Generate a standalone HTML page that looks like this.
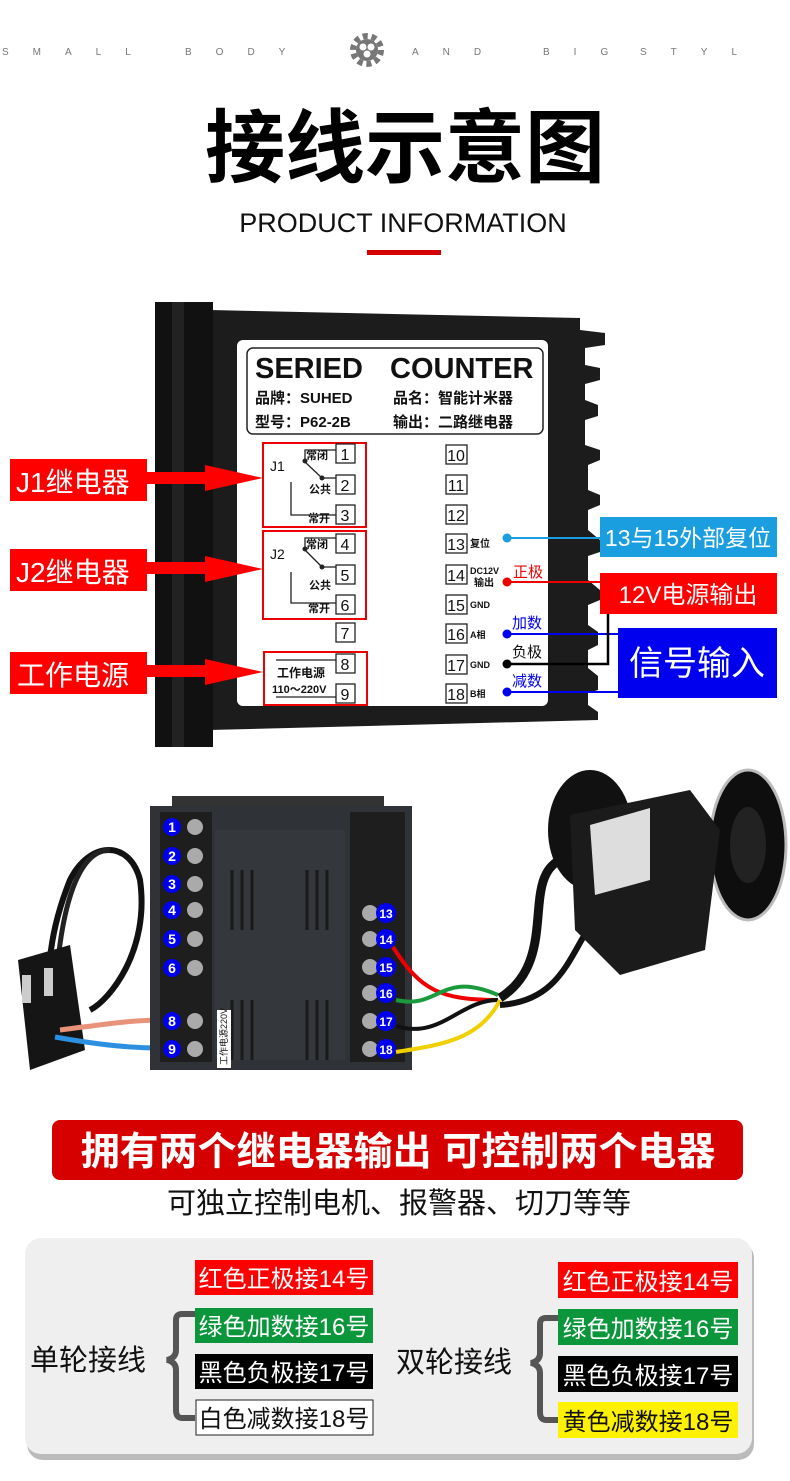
<!DOCTYPE html>
<html><head><meta charset="utf-8"><style>
html,body{margin:0;padding:0;background:#fff;}
svg{display:block;}
text{font-family:"Liberation Sans","Noto Sans CJK SC",sans-serif;}
</style></head><body>
<svg width="790" height="1481" viewBox="0 0 790 1481" xmlns="http://www.w3.org/2000/svg">
<!-- header -->
<g fill="#777" font-size="10">
<text x="2" y="55" letter-spacing="24">SMALL</text>
<text x="185" y="55" letter-spacing="24">BODY</text>
<text x="412" y="55" letter-spacing="24">AND</text>
<text x="543" y="55" letter-spacing="24">BIG</text>
<text x="640" y="55" letter-spacing="24">STYL</text>
</g>
<g transform="translate(367,50)">
<circle r="14" fill="none" stroke="#777" stroke-width="6" stroke-dasharray="5 3.8"/>
<circle r="11" fill="#777"/>
<circle cx="-4" cy="-3" r="3.5" fill="#fff"/><circle cx="4" cy="-3" r="3.5" fill="#fff"/><circle cx="0" cy="4" r="3.5" fill="#fff"/>
</g>
<text x="405" y="176" font-size="80" font-weight="bold" text-anchor="middle" fill="#000">接线示意图</text>
<text x="403" y="232" font-size="27" text-anchor="middle" fill="#111">PRODUCT INFORMATION</text>
<rect x="367" y="250" width="74" height="5" fill="#d40000"/>

<!-- device body -->
<polygon points="210,310 580,318 580,330 605,333 605,345 585,348 585,365 600,368 600,380 585,384 585,400 598,405 598,416 585,420 585,445 600,450 600,460 588,465 588,490 600,495 600,505 588,510 588,530 600,540 600,552 588,556 588,580 600,590 600,600 588,605 588,625 598,632 598,645 588,650 588,668 598,676 598,690 588,693 588,705 598,712 598,720 210,730" fill="#1c1c1c"/>
<rect x="155" y="302" width="58" height="445" fill="#111"/>
<rect x="172" y="302" width="12" height="445" fill="#222"/>
<rect x="237" y="340" width="311" height="366" rx="6" fill="#fff"/>
<rect x="247" y="348" width="296" height="86" rx="6" fill="none" stroke="#222" stroke-width="1.5"/>
<text x="255" y="378" font-size="29" fill="#111" font-weight="bold">SERIED</text>
<text x="390" y="378" font-size="29" fill="#111" font-weight="bold">COUNTER</text>
<text x="255" y="403" font-size="15" fill="#111" font-weight="bold">品牌：SUHED</text>
<text x="393" y="403" font-size="15" fill="#111" font-weight="bold">品名：智能计米器</text>
<text x="255" y="427" font-size="15" fill="#111" font-weight="bold">型号：P62-2B</text>
<text x="393" y="427" font-size="15" fill="#111" font-weight="bold">输出：二路继电器</text>

<!-- red boxes -->
<g fill="none" stroke="#e00" stroke-width="2">
<rect x="263" y="443" width="103" height="84"/>
<rect x="263" y="531" width="103" height="88"/>
<rect x="264" y="652" width="103" height="53"/>
</g>
<!-- terminals -->
<g font-size="16" fill="#111" text-anchor="middle">
<g fill="none" stroke="#222" stroke-width="1.3">
<rect x="336" y="444" width="19" height="19"/><rect x="336" y="475" width="19" height="19"/><rect x="336" y="505" width="19" height="19"/>
<rect x="336" y="534" width="19" height="19"/><rect x="336" y="565" width="19" height="19"/><rect x="336" y="595" width="19" height="19"/>
<rect x="336" y="623" width="19" height="19"/><rect x="336" y="654" width="19" height="19"/><rect x="336" y="684" width="19" height="19"/>
<rect x="446" y="445" width="21" height="19"/><rect x="446" y="475" width="21" height="19"/><rect x="446" y="505" width="21" height="19"/>
<rect x="446" y="534" width="21" height="19"/><rect x="446" y="565" width="21" height="19"/><rect x="446" y="595" width="21" height="19"/>
<rect x="446" y="624" width="21" height="19"/><rect x="446" y="655" width="21" height="19"/><rect x="446" y="684" width="21" height="19"/>
</g>
<text x="345" y="460">1</text><text x="345" y="491">2</text><text x="345" y="521">3</text>
<text x="345" y="550">4</text><text x="345" y="581">5</text><text x="345" y="611">6</text>
<text x="345" y="639">7</text><text x="345" y="670">8</text><text x="345" y="700">9</text>
<text x="456" y="461">10</text><text x="456" y="491">11</text><text x="456" y="521">12</text>
<text x="456" y="550">13</text><text x="456" y="581">14</text><text x="456" y="611">15</text>
<text x="456" y="640">16</text><text x="456" y="671">17</text><text x="456" y="700">18</text>
</g>
<g font-size="11" fill="#111" font-weight="bold">
<text x="270" y="471" font-size="14" font-weight="normal" font-family="Liberation Serif">J1</text>
<text x="306" y="459">常闭</text><text x="309" y="493">公共</text><text x="308" y="522">常开</text>
<text x="270" y="559" font-size="14" font-weight="normal" font-family="Liberation Serif">J2</text>
<text x="306" y="548">常闭</text><text x="309" y="589">公共</text><text x="308" y="612">常开</text>
<text x="277" y="677" font-size="12">工作电源</text>
<text x="272" y="693" font-size="11">110～220V</text>
<text x="470" y="547" font-size="10">复位</text>
<text x="470" y="574" font-size="9">DC12V</text><text x="474" y="586" font-size="10">输出</text>
<text x="470" y="608" font-size="9">GND</text>
<text x="470" y="638" font-size="9">A相</text>
<text x="470" y="668" font-size="9">GND</text>
<text x="470" y="697" font-size="9">B相</text>
</g>
<g stroke="#222" stroke-width="1.3" fill="none">
<polyline points="336,450 305,450 305,462"/><line x1="305" y1="462" x2="322" y2="478"/><line x1="322" y1="478" x2="336" y2="478"/>
<polyline points="291,482 291,515 336,515"/>
<polyline points="336,538 305,538 305,550"/><line x1="305" y1="550" x2="322" y2="567"/><line x1="322" y1="567" x2="336" y2="567"/>
<polyline points="291,572 291,603 336,603"/>
<line x1="276" y1="660" x2="336" y2="660"/><line x1="276" y1="697" x2="336" y2="697"/>
</g>
<g fill="#222"><circle cx="305" cy="461" r="2.5"/><circle cx="322" cy="478" r="2.5"/><circle cx="305" cy="549" r="2.5"/><circle cx="322" cy="567" r="2.5"/></g>

<!-- left arrows -->
<g fill="#f00">
<rect x="10" y="459" width="137" height="42"/><rect x="145" y="472" width="62" height="12"/><polygon points="205,465 263,478 205,491"/>
<rect x="10" y="549" width="137" height="42"/><rect x="145" y="562" width="62" height="12"/><polygon points="205,556 263,569 205,582"/>
<rect x="10" y="652" width="137" height="42"/><rect x="145" y="665" width="62" height="12"/><polygon points="205,659 263,672 205,685"/>
</g>
<g fill="#fff" font-size="28">
<text x="16" y="492">J1继电器</text><text x="16" y="582">J2继电器</text><text x="17" y="685">工作电源</text>
</g>

<!-- right annotations -->
<line x1="507" y1="538" x2="600" y2="538" stroke="#1a9ee0" stroke-width="2"/>
<circle cx="507" cy="538" r="4.5" fill="#1a9ee0"/>
<line x1="507" y1="582" x2="600" y2="582" stroke="#e00" stroke-width="2"/>
<circle cx="507" cy="582" r="4.5" fill="#e00"/>
<line x1="507" y1="634" x2="618" y2="634" stroke="#0000ee" stroke-width="2"/>
<circle cx="507" cy="634" r="4.5" fill="#0000ee"/>
<line x1="507" y1="692" x2="618" y2="692" stroke="#0000ee" stroke-width="2"/>
<circle cx="507" cy="692" r="4.5" fill="#0000ee"/>
<polyline points="507,664 608,664 608,612" fill="none" stroke="#000" stroke-width="2.5"/>
<circle cx="507" cy="664" r="4.5" fill="#000"/>
<text x="513" y="577" font-size="15" fill="#e00">正极</text>
<text x="512" y="628" font-size="15" fill="#0000ee">加数</text>
<text x="512" y="657" font-size="15" fill="#111">负极</text>
<text x="512" y="686" font-size="15" fill="#0000ee">减数</text>
<rect x="600" y="517" width="177" height="40" fill="#1a9ee0"/>
<text x="688" y="546" font-size="23" fill="#fff" text-anchor="middle">13与15外部复位</text>
<rect x="600" y="573" width="177" height="41" fill="#f00"/>
<text x="688" y="603" font-size="24" fill="#fff" text-anchor="middle">12V电源输出</text>
<rect x="618" y="628" width="159" height="70" fill="#0000ee"/>
<text x="697" y="675" font-size="34" fill="#fff" text-anchor="middle">信号输入</text>

<!-- bottom photo -->
<g>
<path d="M60,1030 C40,990 50,930 70,880 C90,840 130,840 140,880 C150,950 110,1000 90,1010" fill="none" stroke="#111" stroke-width="6"/>
<path d="M55,1000 C60,900 80,850 110,850" fill="none" stroke="#222" stroke-width="5"/>
<polygon points="18,960 70,945 85,1050 30,1070" fill="#151515"/>
<rect x="22" y="975" width="9" height="28" fill="#ccc"/><rect x="44" y="968" width="9" height="28" fill="#ccc"/>
<path d="M60,1030 C100,1025 130,1020 162,1020" fill="none" stroke="#e8927a" stroke-width="5"/>
<path d="M55,1037 C100,1045 130,1048 162,1048" fill="none" stroke="#2d8fe0" stroke-width="5"/>
<rect x="172" y="796" width="212" height="10" fill="#333"/>
<rect x="150" y="806" width="262" height="264" fill="#2f3236"/>
<rect x="215" y="830" width="130" height="230" fill="#34373b"/>
<g stroke="#1a1a1a" stroke-width="3">
<line x1="232" y1="870" x2="232" y2="930"/><line x1="242" y1="870" x2="242" y2="930"/><line x1="252" y1="870" x2="252" y2="930"/>
<line x1="307" y1="870" x2="307" y2="930"/><line x1="317" y1="870" x2="317" y2="930"/><line x1="327" y1="870" x2="327" y2="930"/>
<line x1="232" y1="1000" x2="232" y2="1060"/><line x1="242" y1="1000" x2="242" y2="1060"/><line x1="252" y1="1000" x2="252" y2="1060"/>
<line x1="307" y1="1000" x2="307" y2="1060"/><line x1="317" y1="1000" x2="317" y2="1060"/><line x1="327" y1="1000" x2="327" y2="1060"/>
</g>
<rect x="217" y="1010" width="14" height="58" fill="#fff"/>
<text transform="translate(227,1065) rotate(-90)" font-size="9" fill="#111">工作电源220V</text>
<g fill="#1e1e1e"><rect x="160" y="812" width="52" height="250"/><rect x="350" y="812" width="55" height="250"/></g>
<g fill="#aaa">
<circle cx="195" cy="827" r="8"/><circle cx="195" cy="856" r="8"/><circle cx="195" cy="884" r="8"/><circle cx="195" cy="910" r="8"/><circle cx="195" cy="939" r="8"/><circle cx="195" cy="968" r="8"/><circle cx="195" cy="1021" r="8"/><circle cx="195" cy="1049" r="8"/>
<circle cx="370" cy="913" r="8"/><circle cx="370" cy="939" r="8"/><circle cx="370" cy="967" r="8"/><circle cx="370" cy="993" r="8"/><circle cx="370" cy="1021" r="8"/><circle cx="370" cy="1049" r="8"/>
</g>
<g fill="#0000ee">
<circle cx="172" cy="827" r="9"/><circle cx="172" cy="856" r="9"/><circle cx="172" cy="884" r="9"/><circle cx="172" cy="910" r="9"/><circle cx="172" cy="939" r="9"/><circle cx="172" cy="968" r="9"/><circle cx="172" cy="1021" r="9"/><circle cx="172" cy="1049" r="9"/>
<circle cx="386" cy="913" r="10"/><circle cx="386" cy="939" r="10"/><circle cx="386" cy="967" r="10"/><circle cx="386" cy="993" r="10"/><circle cx="386" cy="1021" r="10"/><circle cx="386" cy="1049" r="10"/>
</g>
<g fill="#fff" font-size="14" font-weight="bold" text-anchor="middle">
<text x="172" y="832">1</text><text x="172" y="861">2</text><text x="172" y="889">3</text><text x="172" y="915">4</text><text x="172" y="944">5</text><text x="172" y="973">6</text><text x="172" y="1026">8</text><text x="172" y="1054">9</text>
<text x="386" y="918" font-size="12">13</text><text x="386" y="944" font-size="12">14</text><text x="386" y="972" font-size="12">15</text><text x="386" y="998" font-size="12">16</text><text x="386" y="1026" font-size="12">17</text><text x="386" y="1054" font-size="12">18</text>
</g>
<path d="M393,947 C420,990 440,1000 498,1000" fill="none" stroke="#e00" stroke-width="4"/>
<path d="M396,1000 C440,1010 440,970 498,995" fill="none" stroke="#1a9a3c" stroke-width="4"/>
<path d="M396,1026 C440,1040 460,1000 498,1000" fill="none" stroke="#111" stroke-width="4"/>
<path d="M396,1052 C440,1045 480,1040 500,1000" fill="none" stroke="#f0d000" stroke-width="4"/>
<path d="M500,998 C560,960 520,880 560,860 C600,850 600,930 640,940" fill="none" stroke="#111" stroke-width="9"/>
<path d="M500,1005 C580,1000 570,920 620,900" fill="none" stroke="#111" stroke-width="6"/>
<ellipse cx="590" cy="830" rx="42" ry="60" fill="#111"/>
<ellipse cx="748" cy="845" rx="38" ry="75" fill="#0e0e0e" stroke="#bbb" stroke-width="3"/>
<ellipse cx="748" cy="845" rx="18" ry="38" fill="#222"/>
<polygon points="570,815 690,790 720,830 705,950 620,975 575,930" fill="#1b1b1b"/>
<polygon points="590,825 650,808 650,880 595,895" fill="#ddd"/>
</g>

<!-- banner -->
<rect x="52" y="1120" width="691" height="60" rx="8" fill="#d60000"/>
<text x="398" y="1165" font-size="39" font-weight="bold" fill="#fff" text-anchor="middle">拥有两个继电器输出 可控制两个电器</text>
<text x="399" y="1213" font-size="29" fill="#111" text-anchor="middle">可独立控制电机、报警器、切刀等等</text>

<!-- bottom panel -->
<rect x="27" y="1242" width="727" height="218" rx="16" fill="#bbb"/>
<rect x="25" y="1238" width="727" height="216" rx="16" fill="#efefef"/>
<text x="30" y="1370" font-size="29" fill="#111">单轮接线</text>
<text x="396" y="1372" font-size="29" fill="#111">双轮接线</text>
<g fill="none" stroke="#555" stroke-width="6">
<path d="M195,1314 H182 Q176,1314 176,1320 V1350 Q176,1358 167,1360 Q176,1362 176,1370 V1410 Q176,1418 182,1418 H195"/>
<path d="M558,1318 H546 Q540,1318 540,1324 V1353 Q540,1361 531,1363 Q540,1365 540,1373 V1412 Q540,1420 546,1420 H558"/>
</g>
<g font-size="24" text-anchor="middle">
<rect x="195" y="1260" width="178" height="35" fill="#f00"/><text x="284" y="1287" fill="#fff">红色正极接14号</text>
<rect x="195" y="1308" width="178" height="35" fill="#0c963c"/><text x="284" y="1335" fill="#fff">绿色加数接16号</text>
<rect x="195" y="1354" width="178" height="35" fill="#000"/><text x="284" y="1381" fill="#fff">黑色负极接17号</text>
<rect x="196" y="1400" width="177" height="35" fill="#fff" stroke="#222"/><text x="284" y="1427" fill="#111">白色减数接18号</text>
<rect x="558" y="1262" width="180" height="36" fill="#f00"/><text x="648" y="1290" fill="#fff">红色正极接14号</text>
<rect x="558" y="1309" width="180" height="36" fill="#0c963c"/><text x="648" y="1337" fill="#fff">绿色加数接16号</text>
<rect x="558" y="1356" width="180" height="36" fill="#000"/><text x="648" y="1384" fill="#fff">黑色负极接17号</text>
<rect x="558" y="1402" width="180" height="36" fill="#fff200"/><text x="648" y="1430" fill="#111">黄色减数接18号</text>
</g>
</svg>
</body></html>
